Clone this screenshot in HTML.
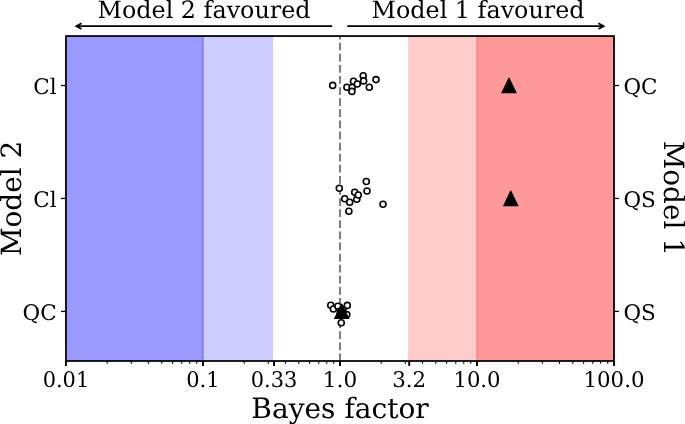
<!DOCTYPE html>
<html lang="en"><head><meta charset="utf-8"><title>Bayes factor</title>
<style>html,body{margin:0;padding:0;background:#fff}svg{display:block}text{text-rendering:geometricPrecision;font-family:"DejaVu Serif","Liberation Serif",serif;fill:#000}</style>
</head><body>
<svg width="685" height="424" viewBox="0 0 685 424">
<rect x="0" y="0" width="685" height="424" fill="#fff"/>
<rect x="65.95" y="36.05" width="137.65" height="324.95" fill="#0000ff" fill-opacity="0.4"/>
<rect x="201.9" y="36.05" width="71.25" height="324.95" fill="#0000ff" fill-opacity="0.2"/>
<rect x="408.05" y="36.05" width="69.70" height="324.95" fill="#ff0000" fill-opacity="0.2"/>
<rect x="476.4" y="36.05" width="137.60" height="324.95" fill="#ff0000" fill-opacity="0.4"/>
<line x1="340" y1="361.0" x2="340" y2="36.05" stroke="#808080" stroke-width="2.1" stroke-dasharray="7.75 3.35" stroke-dashoffset="0.3"/>
<g>
<circle cx="332.7" cy="85.4" r="3" fill="#fff" stroke="#000" stroke-width="1.62"/>
<circle cx="346.9" cy="87.2" r="3" fill="#fff" stroke="#000" stroke-width="1.62"/>
<circle cx="353.5" cy="81.2" r="3" fill="#fff" stroke="#000" stroke-width="1.62"/>
<circle cx="352.2" cy="87.5" r="3" fill="#fff" stroke="#000" stroke-width="1.62"/>
<circle cx="351.9" cy="91.4" r="3" fill="#fff" stroke="#000" stroke-width="1.62"/>
<circle cx="357.3" cy="84.0" r="3" fill="#fff" stroke="#000" stroke-width="1.62"/>
<circle cx="363.2" cy="75.8" r="3" fill="#fff" stroke="#000" stroke-width="1.62"/>
<circle cx="363.6" cy="80.9" r="3" fill="#fff" stroke="#000" stroke-width="1.62"/>
<circle cx="369.3" cy="87.2" r="3" fill="#fff" stroke="#000" stroke-width="1.62"/>
<circle cx="376.0" cy="79.6" r="3" fill="#fff" stroke="#000" stroke-width="1.62"/>
<polygon points="508.50,77.75 509.50,77.75 516.90,93.20 501.10,93.20" fill="#000"/>
<circle cx="339.3" cy="188.3" r="3" fill="#fff" stroke="#000" stroke-width="1.62"/>
<circle cx="344.7" cy="198.7" r="3" fill="#fff" stroke="#000" stroke-width="1.62"/>
<circle cx="349.7" cy="202.3" r="3" fill="#fff" stroke="#000" stroke-width="1.62"/>
<circle cx="348.9" cy="211.2" r="3" fill="#fff" stroke="#000" stroke-width="1.62"/>
<circle cx="354.7" cy="192.3" r="3" fill="#fff" stroke="#000" stroke-width="1.62"/>
<circle cx="356.8" cy="199.2" r="3" fill="#fff" stroke="#000" stroke-width="1.62"/>
<circle cx="358.3" cy="195.0" r="3" fill="#fff" stroke="#000" stroke-width="1.62"/>
<circle cx="366.3" cy="181.5" r="3" fill="#fff" stroke="#000" stroke-width="1.62"/>
<circle cx="367.0" cy="191.0" r="3" fill="#fff" stroke="#000" stroke-width="1.62"/>
<circle cx="383.0" cy="204.2" r="3" fill="#fff" stroke="#000" stroke-width="1.62"/>
<polygon points="510.30,190.70 511.30,190.70 518.70,206.15 502.90,206.15" fill="#000"/>
<circle cx="330.75" cy="305.3" r="3" fill="#fff" stroke="#000" stroke-width="1.62"/>
<circle cx="333.4" cy="309.0" r="3" fill="#fff" stroke="#000" stroke-width="1.62"/>
<circle cx="337.9" cy="306.3" r="3" fill="#fff" stroke="#000" stroke-width="1.62"/>
<circle cx="346.8" cy="314.6" r="3" fill="#fff" stroke="#000" stroke-width="1.62"/>
<circle cx="341.0" cy="310.5" r="3" fill="#fff" stroke="#000" stroke-width="1.62"/>
<circle cx="342.5" cy="312.5" r="3" fill="#fff" stroke="#000" stroke-width="1.62"/>
<circle cx="340.2" cy="313.0" r="3" fill="#fff" stroke="#000" stroke-width="1.62"/>
<circle cx="343.0" cy="309.5" r="3" fill="#fff" stroke="#000" stroke-width="1.62"/>
<polygon points="341.20,303.65 342.20,303.65 349.60,319.10 333.80,319.10" fill="#000"/>
<circle cx="347.3" cy="305.4" r="3" fill="#fff" stroke="#000" stroke-width="1.62"/>
<circle cx="341.25" cy="322.8" r="3" fill="#fff" stroke="#000" stroke-width="1.62"/>
</g>
<g stroke="#000" fill="none">
<line x1="65.95" y1="361.0" x2="65.95" y2="365.90" stroke-width="1.9"/>
<line x1="202.96" y1="361.0" x2="202.96" y2="365.90" stroke-width="1.9"/>
<line x1="274.01" y1="361.0" x2="274.01" y2="365.90" stroke-width="1.9"/>
<line x1="339.97" y1="361.0" x2="339.97" y2="365.90" stroke-width="1.9"/>
<line x1="409.19" y1="361.0" x2="409.19" y2="365.90" stroke-width="1.9"/>
<line x1="476.99" y1="361.0" x2="476.99" y2="365.90" stroke-width="1.9"/>
<line x1="614.00" y1="361.0" x2="614.00" y2="365.90" stroke-width="1.9"/>
<line x1="107.19" y1="361.0" x2="107.19" y2="363.80" stroke-width="1.1"/>
<line x1="131.32" y1="361.0" x2="131.32" y2="363.80" stroke-width="1.1"/>
<line x1="148.44" y1="361.0" x2="148.44" y2="363.80" stroke-width="1.1"/>
<line x1="161.72" y1="361.0" x2="161.72" y2="363.80" stroke-width="1.1"/>
<line x1="172.57" y1="361.0" x2="172.57" y2="363.80" stroke-width="1.1"/>
<line x1="181.74" y1="361.0" x2="181.74" y2="363.80" stroke-width="1.1"/>
<line x1="189.68" y1="361.0" x2="189.68" y2="363.80" stroke-width="1.1"/>
<line x1="196.69" y1="361.0" x2="196.69" y2="363.80" stroke-width="1.1"/>
<line x1="244.21" y1="361.0" x2="244.21" y2="363.80" stroke-width="1.1"/>
<line x1="268.33" y1="361.0" x2="268.33" y2="363.80" stroke-width="1.1"/>
<line x1="285.45" y1="361.0" x2="285.45" y2="363.80" stroke-width="1.1"/>
<line x1="298.73" y1="361.0" x2="298.73" y2="363.80" stroke-width="1.1"/>
<line x1="309.58" y1="361.0" x2="309.58" y2="363.80" stroke-width="1.1"/>
<line x1="318.75" y1="361.0" x2="318.75" y2="363.80" stroke-width="1.1"/>
<line x1="326.70" y1="361.0" x2="326.70" y2="363.80" stroke-width="1.1"/>
<line x1="333.71" y1="361.0" x2="333.71" y2="363.80" stroke-width="1.1"/>
<line x1="381.22" y1="361.0" x2="381.22" y2="363.80" stroke-width="1.1"/>
<line x1="405.35" y1="361.0" x2="405.35" y2="363.80" stroke-width="1.1"/>
<line x1="422.46" y1="361.0" x2="422.46" y2="363.80" stroke-width="1.1"/>
<line x1="435.74" y1="361.0" x2="435.74" y2="363.80" stroke-width="1.1"/>
<line x1="446.59" y1="361.0" x2="446.59" y2="363.80" stroke-width="1.1"/>
<line x1="455.76" y1="361.0" x2="455.76" y2="363.80" stroke-width="1.1"/>
<line x1="463.71" y1="361.0" x2="463.71" y2="363.80" stroke-width="1.1"/>
<line x1="470.72" y1="361.0" x2="470.72" y2="363.80" stroke-width="1.1"/>
<line x1="518.23" y1="361.0" x2="518.23" y2="363.80" stroke-width="1.1"/>
<line x1="542.36" y1="361.0" x2="542.36" y2="363.80" stroke-width="1.1"/>
<line x1="559.48" y1="361.0" x2="559.48" y2="363.80" stroke-width="1.1"/>
<line x1="572.76" y1="361.0" x2="572.76" y2="363.80" stroke-width="1.1"/>
<line x1="583.60" y1="361.0" x2="583.60" y2="363.80" stroke-width="1.1"/>
<line x1="592.78" y1="361.0" x2="592.78" y2="363.80" stroke-width="1.1"/>
<line x1="600.72" y1="361.0" x2="600.72" y2="363.80" stroke-width="1.1"/>
<line x1="607.73" y1="361.0" x2="607.73" y2="363.80" stroke-width="1.1"/>
<line x1="61.00" y1="85.5" x2="65.95" y2="85.5" stroke-width="1.3"/>
<line x1="614.0" y1="85.5" x2="618.90" y2="85.5" stroke-width="1.3"/>
<line x1="61.00" y1="198.45" x2="65.95" y2="198.45" stroke-width="1.3"/>
<line x1="614.0" y1="198.45" x2="618.90" y2="198.45" stroke-width="1.3"/>
<line x1="61.00" y1="311.4" x2="65.95" y2="311.4" stroke-width="1.3"/>
<line x1="614.0" y1="311.4" x2="618.90" y2="311.4" stroke-width="1.3"/>
<rect x="65.95" y="36.05" width="548.05" height="324.95" stroke-width="1.75"/>
<g stroke-width="1.7">
<line x1="76.0" y1="26.15" x2="332.2" y2="26.15"/>
<polyline points="81.5,23.25 76.3,26.15 81.5,29.05"/>
<line x1="347.3" y1="26.15" x2="604.0" y2="26.15"/>
<polyline points="598.4,23.25 603.7,26.15 598.4,29.05"/>
</g>
</g>
<text x="97.5" y="18.3" font-size="23.85">Model 2 favoured</text>
<text x="371.5" y="18.3" font-size="23.85">Model 1 favoured</text>
<text transform="translate(65.95,386.7) scale(0.974,1)" font-size="21.5" text-anchor="middle">0.01</text>
<text transform="translate(202.96,386.7) scale(0.977,1)" font-size="21.5" text-anchor="middle">0.1</text>
<text transform="translate(274.01,386.7) scale(0.972,1)" font-size="21.5" text-anchor="middle">0.33</text>
<text transform="translate(339.97,386.7) scale(1.005,1)" font-size="21.5" text-anchor="middle">1.0</text>
<text transform="translate(409.19,386.7) scale(0.993,1)" font-size="21.5" text-anchor="middle">3.2</text>
<text transform="translate(476.99,386.7) scale(0.984,1)" font-size="21.5" text-anchor="middle">10.0</text>
<text transform="translate(614.00,386.7) scale(0.99,1)" font-size="21.5" text-anchor="middle">100.0</text>
<text transform="translate(56.7,93.80)" font-size="21.5" text-anchor="end">Cl</text>
<text transform="translate(56.7,206.75)" font-size="21.5" text-anchor="end">Cl</text>
<text transform="translate(56.7,319.70)" font-size="21.5" text-anchor="end">QC</text>
<text transform="translate(623.4,93.80)" font-size="21.5">QC</text>
<text transform="translate(623.4,206.75)" font-size="21.5">QS</text>
<text transform="translate(623.4,319.70)" font-size="21.5">QS</text>
<text x="251.3" y="417.5" font-size="28.05">Bayes factor</text>
<text transform="translate(21.2,198.35) rotate(-90)" font-size="27.9" text-anchor="middle">Model 2</text>
<text transform="translate(663.7,198.35) rotate(90)" font-size="27.9" text-anchor="middle">Model 1</text>
</svg>
</body></html>
